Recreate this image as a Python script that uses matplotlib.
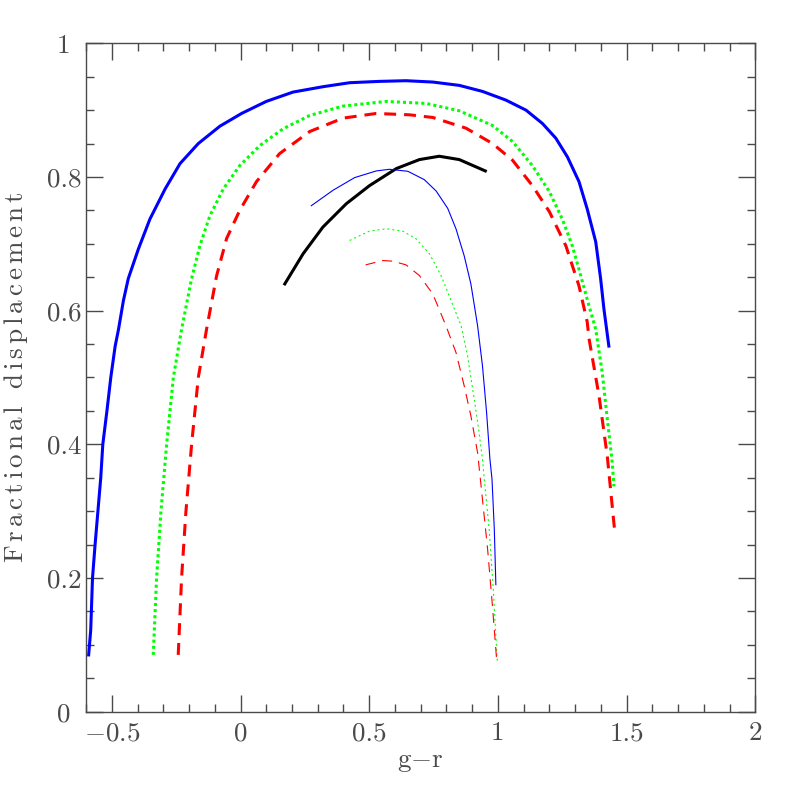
import numpy as np
import matplotlib
matplotlib.use("Agg")
import matplotlib.pyplot as plt
from matplotlib.ticker import MultipleLocator, FixedLocator, FixedFormatter

plt.rcParams['font.family'] = 'cmr10'
plt.rcParams['mathtext.fontset'] = 'cm'
plt.rcParams['axes.unicode_minus'] = False

# thick curves
blue_x = [-0.59, -0.582, -0.575, -0.565, -0.554, -0.543, -0.535, -0.519, -0.504, -0.487,
          -0.474, -0.455, -0.436, -0.397, -0.352, -0.293, -0.235, -0.164,
          -0.08, 0.004, 0.10, 0.204, 0.32, 0.424, 0.54, 0.643, 0.747, 0.85, 0.94, 1.031,
          1.109, 1.173, 1.225, 1.27, 1.315, 1.347, 1.38, 1.399, 1.412, 1.431]
blue_y = [0.085, 0.122, 0.2, 0.25, 0.30, 0.35, 0.40, 0.45, 0.50, 0.547,
          0.572, 0.615, 0.648, 0.692, 0.737, 0.782, 0.820, 0.850,
          0.876, 0.895, 0.913, 0.927, 0.935, 0.941, 0.943, 0.944, 0.942, 0.937, 0.928, 0.915,
          0.900, 0.880, 0.858, 0.830, 0.793, 0.752, 0.703, 0.648, 0.602, 0.547]

green_x = [-0.339, -0.326, -0.309, -0.287, -0.261, -0.229, -0.19, -0.158, -0.119, -0.067,
           -0.003, 0.075, 0.165, 0.269, 0.398, 0.566, 0.721, 0.85, 0.979, 1.057, 1.134, 1.2,
           1.25, 1.289, 1.322, 1.354, 1.38, 1.405, 1.425, 1.444, 1.451]
green_y = [0.085, 0.2, 0.30, 0.40, 0.50, 0.572, 0.648, 0.697, 0.742, 0.782,
           0.817, 0.847, 0.872, 0.892, 0.906, 0.913, 0.910, 0.899, 0.877, 0.853, 0.817, 0.778,
           0.737, 0.697, 0.652, 0.607, 0.572, 0.508, 0.438, 0.373, 0.337]

red_x = [-0.242, -0.229, -0.212, -0.19, -0.164, -0.132, -0.093, -0.054, -0.003, 0.062,
         0.152, 0.269, 0.398, 0.527, 0.656, 0.747, 0.876, 0.979, 1.057, 1.134, 1.2, 1.264,
         1.315, 1.347, 1.354, 1.393, 1.425, 1.455]
red_y = [0.085, 0.2, 0.30, 0.40, 0.50, 0.572, 0.652, 0.708, 0.750, 0.793,
         0.835, 0.868, 0.888, 0.895, 0.893, 0.889, 0.873, 0.850, 0.825, 0.787, 0.748, 0.697,
         0.637, 0.583, 0.558, 0.472, 0.382, 0.265]

black_x = [0.172, 0.243, 0.32, 0.411, 0.501, 0.605, 0.695, 0.772, 0.85, 0.951]
black_y = [0.640, 0.685, 0.725, 0.760, 0.787, 0.8125, 0.826, 0.831, 0.826, 0.809]

# thin curves
tblue_x = [0.275, 0.359, 0.443, 0.527, 0.579, 0.65, 0.714, 0.76, 0.805, 0.837, 0.869,
           0.895, 0.921, 0.940, 0.956, 0.969, 0.977, 0.986, 0.992]
tblue_y = [0.757, 0.780, 0.799, 0.809, 0.8115, 0.8085, 0.796, 0.779, 0.753, 0.7225, 0.682,
           0.640, 0.5775, 0.5175, 0.4475, 0.3775, 0.348, 0.273, 0.19]

tgreen_x = [0.424, 0.501, 0.566, 0.63, 0.682, 0.734, 0.779, 0.818, 0.857, 0.882, 0.908,
            0.927, 0.94, 0.947, 0.966, 0.982, 0.995, 0.998]
tgreen_y = [0.705, 0.719, 0.7225, 0.719, 0.7075, 0.685, 0.6525, 0.615, 0.5775, 0.5325, 0.4675,
            0.4175, 0.3775, 0.348, 0.273, 0.183, 0.093, 0.074]

tred_x = [0.486, 0.553, 0.592, 0.643, 0.695, 0.747, 0.798, 0.837, 0.869, 0.895, 0.921,
          0.934, 0.96, 0.979, 0.996]
tred_y = [0.6685, 0.675, 0.674, 0.6685, 0.6525, 0.625, 0.5775, 0.5375, 0.4875, 0.4425, 0.3875,
          0.340, 0.243, 0.157, 0.073]

xticks = [-0.5, 0, 0.5, 1, 1.5, 2]
xlabels = [r'$-$0.5', '0', '0.5', '1', '1.5', '2']
yticks = [0, 0.2, 0.4, 0.6, 0.8, 1]
ylabels = ['0', '0.2', '0.4', '0.6', '0.8', '1']

gray = '#4a4a4a'
fs = 19.5


def spaced(s):
    # wide letter spacing like the original plotting package
    return r'$\,$'.join(s)


fig = plt.figure(figsize=(7.97, 7.97), dpi=100)
ax = fig.add_axes([0.108, 0.107, 0.8397, 0.8387])

ax.plot(blue_x, blue_y, color='#0000ff', lw=2.2)
ax.plot(green_x, green_y, color='#00ff00', lw=2.2, linestyle=(0, (1, 1)))
ax.plot(red_x, red_y, color='#ff0000', lw=2.2, linestyle=(0, (3.9, 2.6)))
ax.plot(black_x, black_y, color='black', lw=2.2)
ax.plot(tblue_x, tblue_y, color='#0000ff', lw=0.8)
ax.plot(tgreen_x, tgreen_y, color='#00ff00', lw=0.8, linestyle=(0, (1.8, 2.7)))
ax.plot(tred_x, tred_y, color='#ff0000', lw=0.8, linestyle=(0, (9, 6.3)))

ax.set_xlim(-0.6, 2)
ax.set_ylim(0, 1)

ax.xaxis.set_major_locator(FixedLocator(xticks))
ax.xaxis.set_major_formatter(FixedFormatter(xlabels))
ax.yaxis.set_major_locator(FixedLocator(yticks))
ax.yaxis.set_major_formatter(FixedFormatter(ylabels))
ax.xaxis.set_minor_locator(MultipleLocator(0.1))
ax.yaxis.set_minor_locator(MultipleLocator(0.05))

ax.tick_params(which='both', direction='in', top=True, right=True, color=gray,
               labelcolor=gray, labelsize=fs, width=1)
ax.tick_params(which='major', length=12)
ax.tick_params(which='minor', length=6)
ax.tick_params(axis='x', which='major', pad=7)
ax.tick_params(axis='y', which='major', pad=16)
plt.setp(ax.get_yticklabels(), ha='center')
for s in ax.spines.values():
    s.set_color(gray)
    s.set_linewidth(1)

ax.set_xlabel(r'g$-$r', fontsize=fs, color=gray, labelpad=4)
ax.set_ylabel(spaced('Fractional displacement'), fontsize=fs, color=gray, labelpad=12)

fig.savefig('out.png', dpi=100)
